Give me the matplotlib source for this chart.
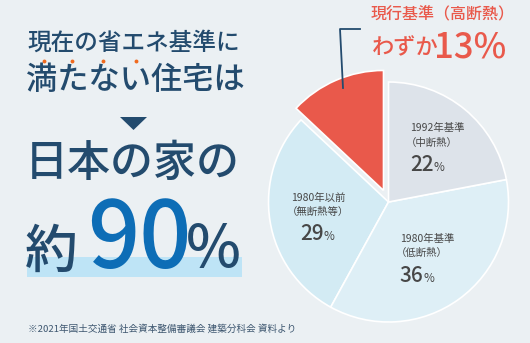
import matplotlib
matplotlib.use("Agg")
import matplotlib.pyplot as plt

plt.rcParams["font.family"] = ["Noto Sans CJK JP", "DejaVu Sans"]

# pie data (counter-clockwise from 12 o'clock)
categories = ["現行基準（高断熱）", "1980年以前（無断熱等）", "1980年基準（低断熱）", "1992年基準（中断熱）"]
shares = [13, 29, 36, 22]
slice_colors = ["#E9594B", "#D3EBF4", "#DEEFF6", "#DDE3EA"]

label_line1 = [None, "1980年以前", "1980年基準", "1992年基準"]
label_line2 = [None, "（無断熱等）", "（低断熱）", "（中断熱）"]
label_pct = [None, "29", "36", "22"]

H = 343
BG = "#EBF0F3"
NAVY = "#234B6E"
BLUE = "#0D6DB6"
RED = "#E9594B"
GRAY = "#474747"

fig = plt.figure(figsize=(5.3, 3.43), dpi=100)
fig.patch.set_facecolor(BG)
ax = fig.add_axes([0, 0, 1, 1])
ax.set_xlim(0, 530)
ax.set_ylim(0, H)
ax.set_aspect("equal")
ax.axis("off")


def t(x, y, s, **kw):
    ax.text(x, H - y, s, **kw)


# pie (explode is in data units here, so scale by the radius)
R = 120
explode = [0.105 * R, 0, 0, 0]
ax.pie(shares, explode=explode, colors=slice_colors, startangle=90, counterclock=True,
       center=(388.5, H - 202), radius=R,
       wedgeprops=dict(edgecolor="white", linewidth=1.2))
ax.set_xlim(0, 530)
ax.set_ylim(0, H)

# slice labels
label_pos = [None, (291, 198, 212, 300, 240), (400, 239, 253, 399, 282), (410, 128, 143, 410, 171)]
for i in range(1, 4):
    x1, y1, y2, xp, yb = label_pos[i]
    t(x1, y1, label_line1[i], fontsize=7.5, color=GRAY, va="center", ha="left")
    t(x1 - 4, y2, label_line2[i], fontsize=7.5, color=GRAY, va="center", ha="left")
    t(xp, yb, label_pct[i], fontsize=15, color=GRAY, va="baseline", ha="left", fontweight="medium")
    t(xp + 24, yb, "%", fontsize=8.5, color=GRAY, va="baseline", ha="left")

# callout
ax.plot([360, 340, 343], [H - 29, H - 29, H - 88], color=NAVY, lw=1.3)
t(371, 15, "現行基準（高断熱）", fontsize=11.5, color=RED, va="center", ha="left", fontweight="medium")
t(372, 54, "わずか", fontsize=16, color=RED, va="baseline", ha="left", fontweight="medium")
t(434, 58, "13%", fontsize=25, color=RED, va="baseline", ha="left", fontweight="medium")

# left headline
t(27, 43, "現在の省エネ基準に", fontsize=17, color=NAVY, va="center", ha="left", fontweight="medium")
t(26, 80, "満たない住宅は", fontsize=22.5, color=NAVY, va="center", ha="left", fontweight="medium")
for dx in [44, 72, 103, 136]:
    ax.plot(dx, H - 61, "o", color="#F06A1E", ms=2.8, mec="none")
ax.fill([120, 147, 133.5], [H - 117, H - 117, H - 130], color=NAVY, lw=0)

t(25, 163, "日本の家の", fontsize=31, color=NAVY, va="center", ha="left", fontweight="medium")
ax.fill_between([27, 242], H - 277, H - 257, color="#BEE4F6", lw=0)
t(25, 268, "約", fontsize=38, color=NAVY, va="baseline", ha="left", fontweight="medium")
t(87, 268, "90", fontsize=66, color=BLUE, va="baseline", ha="left", fontweight="medium")
t(186, 267, "%", fontsize=42, color=NAVY, va="baseline", ha="left", fontweight="medium")

t(28, 329, "※2021年国土交通省 社会資本整備審議会 建築分科会 資料より", fontsize=6.9,
  color="#3E5770", va="center", ha="left")

fig.savefig("out.png", dpi=100, facecolor=BG)
